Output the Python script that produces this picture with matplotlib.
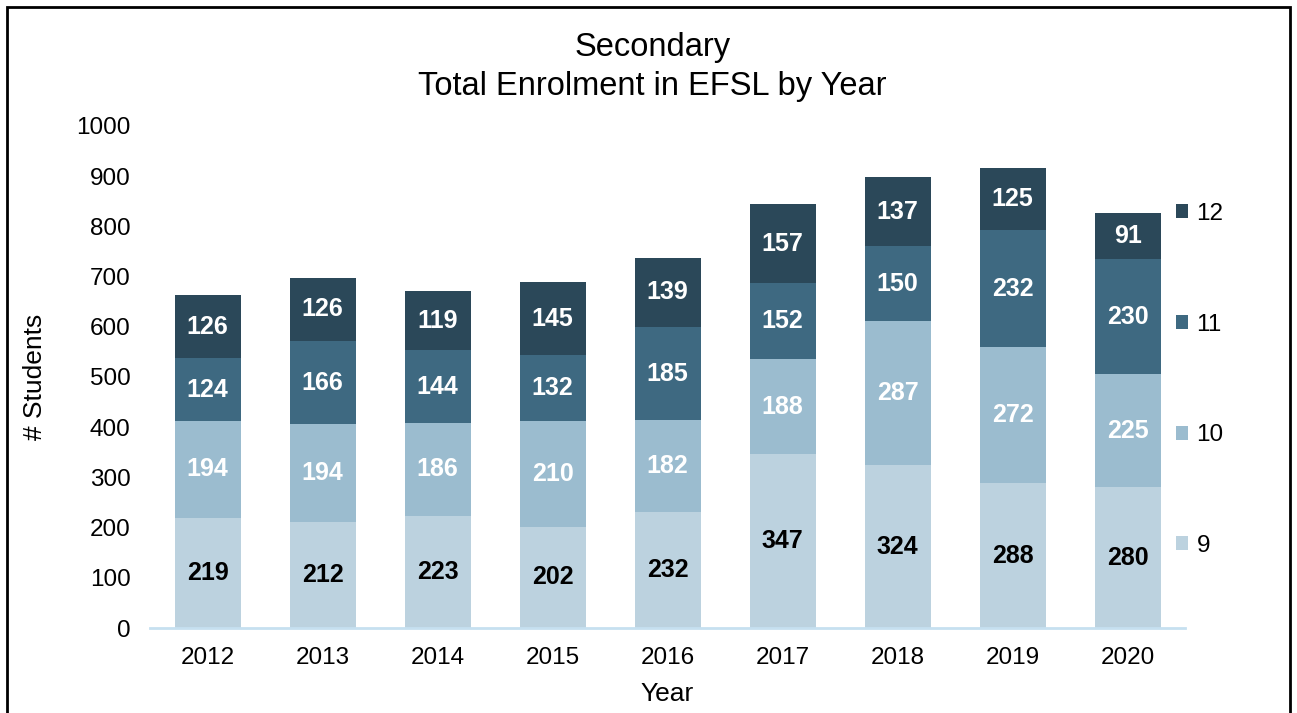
import numpy as np
import matplotlib.pyplot as plt
from matplotlib.patches import Rectangle

plt.rcParams['font.family'] = ['Liberation Sans', 'DejaVu Sans']

years = ['2012', '2013', '2014', '2015', '2016', '2017', '2018', '2019', '2020']
grade_9 = [219, 212, 223, 202, 232, 347, 324, 288, 280]
grade_10 = [194, 194, 186, 210, 182, 188, 287, 272, 225]
grade_11 = [124, 166, 144, 132, 185, 152, 150, 232, 230]
grade_12 = [126, 126, 119, 145, 139, 157, 137, 125, 91]

series = [('9', grade_9, '#bcd2df', 'black'),
          ('10', grade_10, '#9bbccf', 'white'),
          ('11', grade_11, '#3e6981', 'white'),
          ('12', grade_12, '#2b4859', 'white')]

fig = plt.figure(figsize=(12.97, 7.13), dpi=100)
ax = fig.add_axes([0.1157, 0.1192, 0.7980, 0.7041])

x = np.arange(len(years))
bottom = np.zeros(len(years))
handles = []
for name, vals, color, txt_color in series:
    vals = np.array(vals)
    bars = ax.bar(x, vals, width=0.575, bottom=bottom, color=color, label=name)
    handles.append(bars)
    for xi, b, v in zip(x, bottom, vals):
        ax.text(xi, b + v / 2, str(v), ha='center', va='center',
                color=txt_color, fontsize=18, fontweight='bold')
    bottom += vals

ax.set_xlim(-0.5, len(years) - 0.5)
ax.set_ylim(0, 1000)
ax.set_yticks(range(0, 1001, 100))
ax.set_xticks(x)
ax.set_xticklabels(years)
ax.tick_params(axis='both', length=0, labelsize=17.5)
ax.tick_params(axis='x', pad=14)
ax.tick_params(axis='y', pad=14)
for s in ['top', 'right', 'left']:
    ax.spines[s].set_visible(False)
ax.spines['bottom'].set_color('#c6e0f0')
ax.spines['bottom'].set_linewidth(2)

ax.set_xlabel('Year', fontsize=19, labelpad=9)
ax.set_ylabel('# Students', fontsize=19, labelpad=21)

fig.text(0.503, 0.933, 'Secondary', ha='center', va='center', fontsize=23.5)
fig.text(0.503, 0.879, 'Total Enrolment in EFSL by Year', ha='center', va='center', fontsize=23.5)

leg = ax.legend(handles[::-1], [s[0] for s in series][::-1], loc='upper left',
                bbox_to_anchor=(0.9797, 0.871), frameon=False, fontsize=17.5,
                borderpad=0, labelspacing=3.65, handlelength=0.5, handleheight=0.5,
                handletextpad=0.33)

fig.patches.append(Rectangle((0.0054, -0.01), 0.9892, 1.0002,
                             transform=fig.transFigure, fill=False,
                             edgecolor='black', linewidth=2))

fig.savefig('out.png', dpi=100)
